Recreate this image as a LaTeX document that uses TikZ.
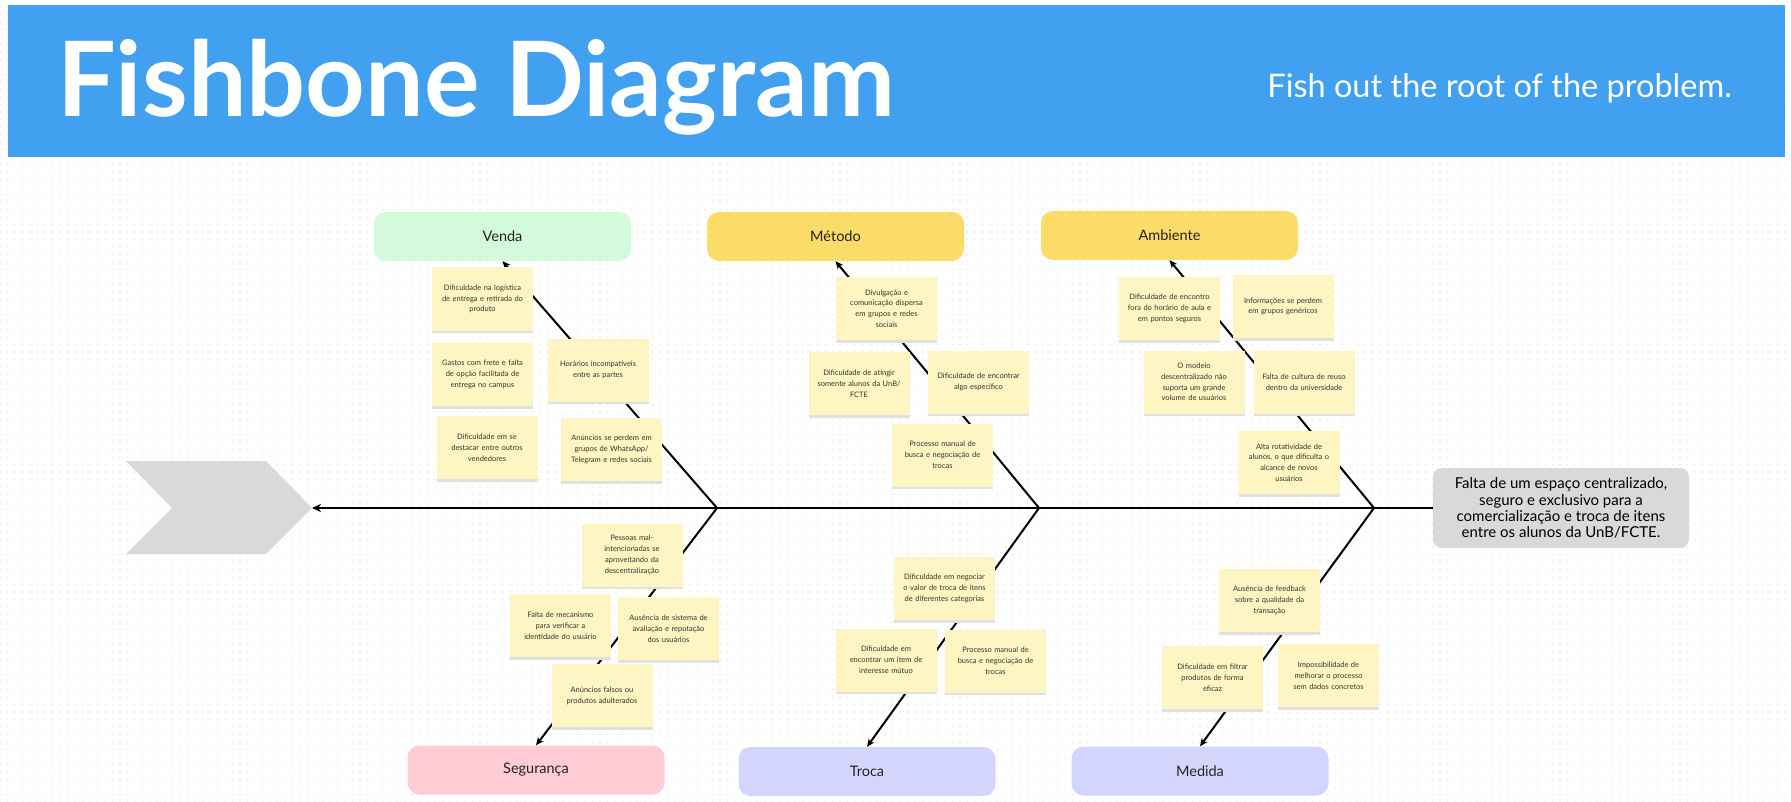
\documentclass[tikz,border=0pt]{standalone}
\usepackage{fontspec}
\setmainfont{Lato}
\usetikzlibrary{arrows.meta,patterns.meta,shadows}
\definecolor{hdr}{HTML}{42A0F1}
\definecolor{notey}{HTML}{FFF5C2}
\definecolor{notetext}{HTML}{333333}
\definecolor{labeltext}{HTML}{222222}
\definecolor{mint}{HTML}{D3FADA}
\definecolor{yel}{HTML}{FCDC68}
\definecolor{pinkc}{HTML}{FFCCD5}
\definecolor{lav}{HTML}{D4D5FC}
\definecolor{greyc}{HTML}{D9D9D9}
\tikzset{
  note/.style={fill=notey, text=notetext, minimum width=101pt, minimum height=63pt,
    align=center, font=\fontsize{7.5}{10.8}\selectfont, inner sep=0pt, text width=99pt,
    general shadow={fill=black!12, shadow yshift=-2.5pt}},
  cat/.style={rounded corners=12pt, minimum width=257pt, minimum height=49pt,
    font=\fontsize{14.5}{17}\selectfont, text=labeltext, inner sep=0pt},
  bone/.style={line width=2pt, -{Stealth[length=8pt,width=7pt]}},
}
\begin{document}
\begin{tikzpicture}[x=1pt,y=-1pt]
\useasboundingbox (0,0) rectangle (1791,802);
\fill[white] (0,0) rectangle (1791,802);
\fill[pattern={Dots[distance=7.5pt,radius=0.55pt]}, pattern color=black!15] (0,0) rectangle (1791,802);
% header
\fill[hdr] (8,5) rectangle (1785,157);
\node[anchor=base west, text=white, font=\fontsize{104}{110}\selectfont\bfseries, inner sep=0pt] (title) at (57,117) {Fishbone Diagram};
\node[anchor=base east, text=white, font=\fontsize{32.5}{36}\selectfont, inner sep=0pt] (subtitle) at (1732,98) {Fish out the root of the problem.};
% head (chevron) and problem
\fill[greyc] (126,461) -- (266,461) -- (312,508) -- (266,554) -- (126,554) -- (172,508) -- cycle;
\coordinate (tip) at (312,508);
\node[fill=greyc, rounded corners=9pt, minimum width=256pt, minimum height=80pt, align=center,
  font=\fontsize{15}{16.3}\selectfont, text=black, inner sep=0pt] (problem) at (1561,508)
  {Falta de um espaço centralizado,\\seguro e exclusivo para a\\comercialização e troca de itens\\entre os alunos da UnB/FCTE.};
% categories
\node[cat, fill=mint] (venda) at (502.5,236.5) {Venda};
\node[cat, fill=yel] (metodo) at (835.5,236.5) {Método};
\node[cat, fill=yel] (ambiente) at (1169.5,235.5) {Ambiente};
\node[cat, fill=pinkc] (seguranca) at (536,770) {Segurança};
\node[cat, fill=lav] (troca) at (867,771.5) {Troca};
\node[cat, fill=lav] (medida) at (1200,771) {Medida};
% junctions
\coordinate (j1) at (717,508);
\coordinate (j2) at (1039,508);
\coordinate (j3) at (1374,508);
% spine and bones
\draw[line width=2.4pt, -{Stealth[length=9pt,width=8pt]}] (problem.west) -- (tip);
\draw[bone] (j1) -- (venda.south);
\draw[bone] (j2) -- (metodo.south);
\draw[bone] (j3) -- (ambiente.south);
\draw[bone] (j1) -- (seguranca.north);
\draw[bone] (j2) -- (troca.north);
\draw[bone] (j3) -- (medida.north);
% notes Venda
\node[note] (v1) at (482.5,299) {Dificuldade na logística\\de entrega e retirada do\\produto};
\node[note] (v2) at (482.5,374.5) {Gastos com frete e falta\\de opção facilitada de\\entrega no campus};
\node[note] (v3) at (487,447.5) {Dificuldade em se\\destacar entre outros\\vendedores};
\node[note] (v4) at (598,370) {Horários incompatíveis\\entre as partes};
\node[note] (v5) at (611.5,449.5) {Anúncios se perdem em\\grupos de WhatsApp/\\Telegram e redes sociais};
% notes Metodo
\node[note] (m1) at (886.5,308.5) {Divulgação e\\comunicação dispersa\\em grupos e redes\\sociais};
\node[note] (m2) at (859,383.5) {Dificuldade de atingir\\somente alunos da UnB/\\FCTE};
\node[note] (m3) at (978.5,382) {Dificuldade de encontrar\\algo específico};
\node[note] (m4) at (942.5,455) {Processo manual de\\busca e negociação de\\trocas};
% notes Ambiente
\node[note] (a1) at (1169.5,308.5) {Dificuldade de encontro\\fora do horário de aula e\\em pontos seguros};
\node[note] (a2) at (1283,306.5) {Informações se perdem\\em grupos genéricos};
\node[note] (a3) at (1194,382) {O modelo\\descentralizado não\\suporta um grande\\volume de usuários};
\node[note] (a4) at (1304,382) {Falta de cultura de reuso\\dentro da universidade};
\node[note] (a5) at (1289,462.5) {Alta rotatividade de\\alunos, o que dificulta o\\alcance de novos\\usuários};
% notes Seguranca
\node[note] (s1) at (632,555) {Pessoas mal-\\intencionadas se\\aproveitando da\\descentralização};
\node[note] (s2) at (560.5,625.5) {Falta de mecanismo\\para verificar a\\identidade do usuário};
\node[note] (s3) at (668.5,628.5) {Ausência de sistema de\\avaliação e reputação\\dos usuários};
\node[note] (s4) at (602,695.5) {Anúncios falsos ou\\produtos adulterados};
% notes Troca
\node[note] (t1) at (944.5,588.5) {Dificuldade em negociar\\o valor de troca de itens\\de diferentes categorias};
\node[note] (t2) at (886,660) {Dificuldade em\\encontrar um item de\\interesse mútuo};
\node[note] (t3) at (995.5,661) {Processo manual de\\busca e negociação de\\trocas};
% notes Medida
\node[note] (d1) at (1269.5,600.5) {Ausência de feedback\\sobre a qualidade da\\transação};
\node[note] (d2) at (1212.5,677.5) {Dificuldade em filtrar\\produtos de forma\\eficaz};
\node[note] (d3) at (1328.5,675.5) {Impossibilidade de\\melhorar o processo\\sem dados concretos};
\end{tikzpicture}
\end{document}
